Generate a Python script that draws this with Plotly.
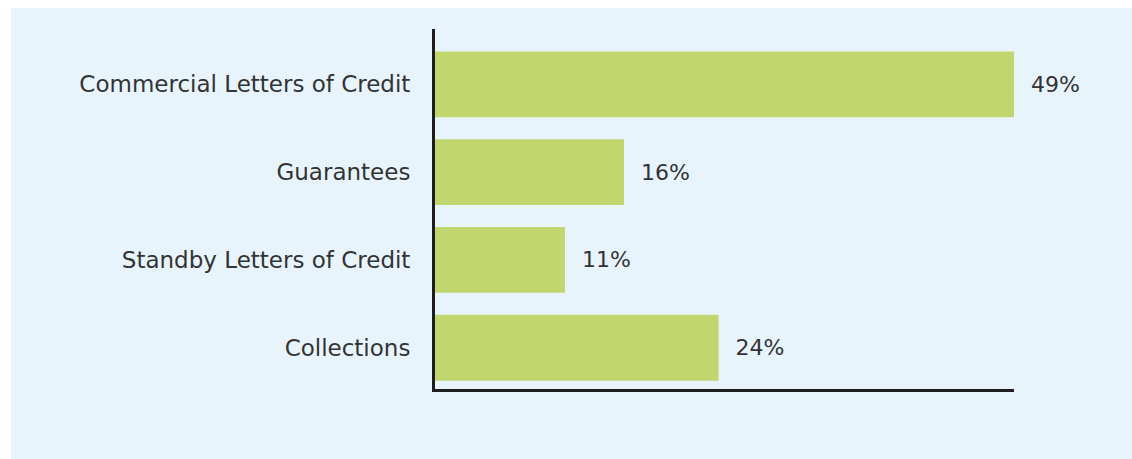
import plotly.graph_objects as go

categories = ["Commercial Letters of Credit", "Guarantees", "Standby Letters of Credit", "Collections"]
shares = [49, 16, 11, 24]

BAR = "#c2d66f"
PANEL = "#e8f4fc"
INK = "#333333"

W, H = 1132, 459
L, T = 435, 29
R, B = W - 1014, H - 389
pw, ph = W - L - R, H - T - B

fig = go.Figure(go.Bar(
    x=shares, y=categories, orientation="h",
    marker=dict(color=BAR, line=dict(width=0)),
    width=0.75,
    texttemplate="  %{x}%", textposition="outside",
    textfont=dict(family="DejaVu Sans", size=22, color=INK),
    cliponaxis=False,
))

# light blue panel behind the chart
fig.add_shape(type="rect", xref="paper", yref="paper", layer="below",
              x0=(11 - L) / pw, x1=(W - L) / pw,
              y0=-(H - T - ph) / ph, y1=1 + (T - 8) / ph,
              fillcolor=PANEL, line=dict(width=0))

fig.update_layout(
    width=W, height=H,
    margin=dict(l=L, r=R, t=T, b=B),
    paper_bgcolor="white", plot_bgcolor=PANEL,
    showlegend=False,
    font=dict(family="DejaVu Sans", size=23, color=INK),
)
fig.update_xaxes(range=[0, 49], showgrid=False, zeroline=False, showticklabels=False,
                 showline=True, linecolor="#1e1e1e", linewidth=3)
fig.update_yaxes(range=[3.47, -0.63], showgrid=False, zeroline=False, ticks="",
                 showline=True, linecolor="#1e1e1e", linewidth=3, ticklabelstandoff=17)

fig.write_html("out.html", config={"displayModeBar": False},
               post_script="document.body.style.margin='0';document.body.style.overflow='hidden';")
